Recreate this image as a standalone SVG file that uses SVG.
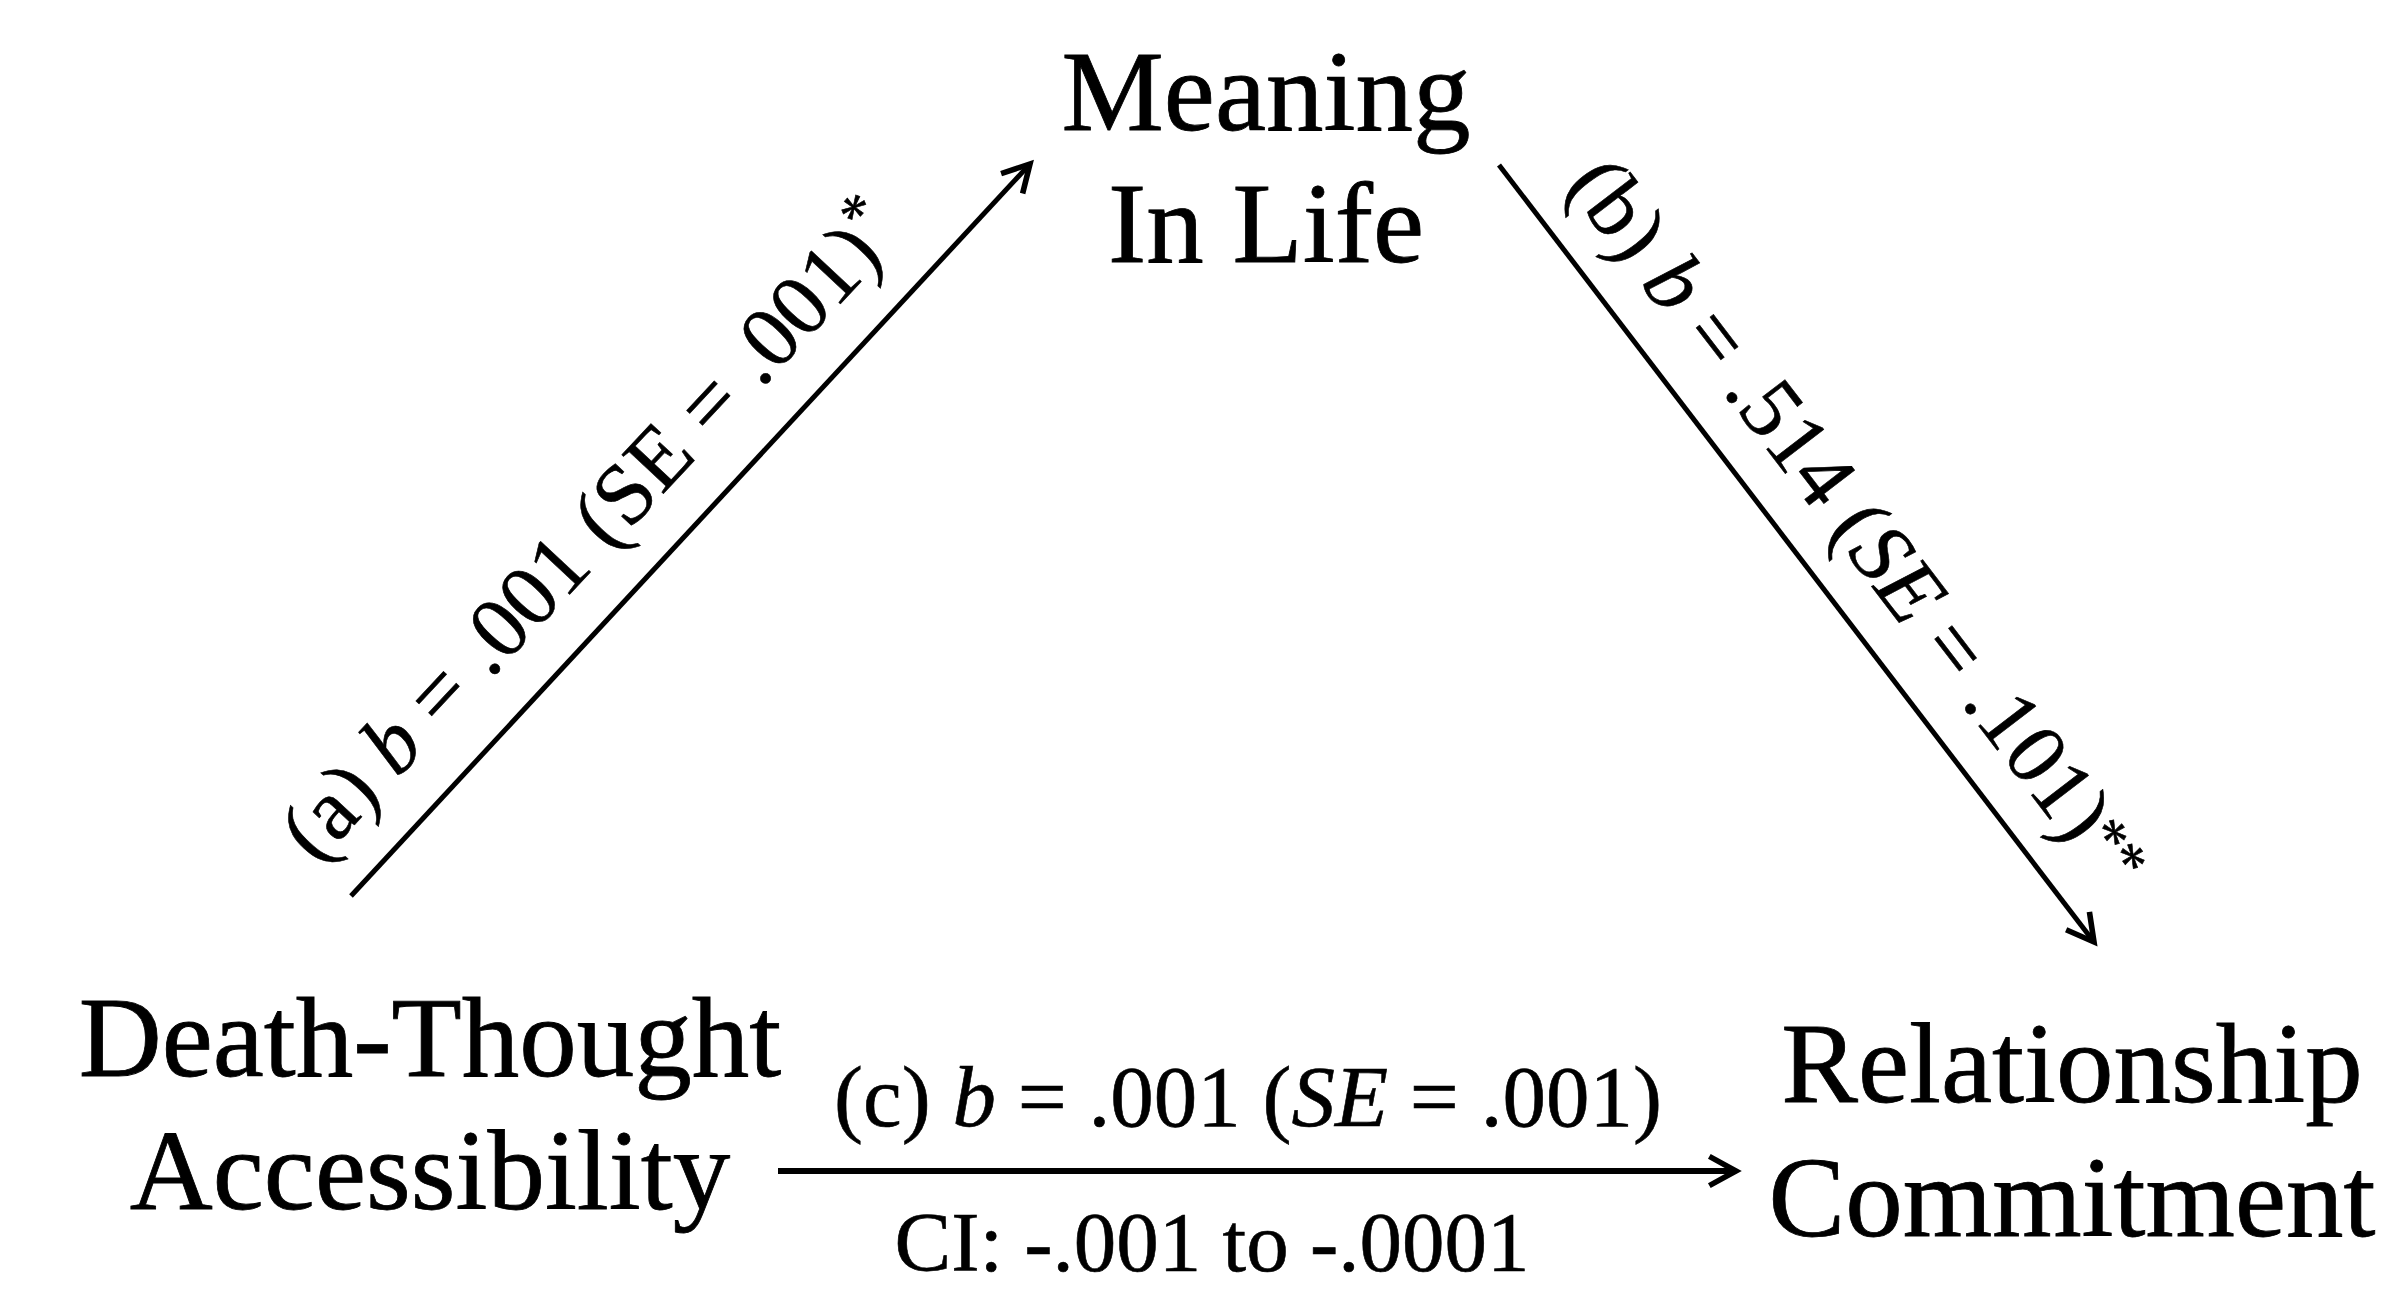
<svg xmlns="http://www.w3.org/2000/svg" width="2393" height="1291" viewBox="0 0 2393 1291">
<style>
.node{font-family:"Liberation Serif","Times New Roman",serif;font-size:115px;fill:#000;stroke:#000;stroke-width:0.8;text-anchor:middle}
.lbl{font-family:"Liberation Serif","Times New Roman",serif;font-size:87px;fill:#000;stroke:#000;stroke-width:0.6;text-anchor:middle}
.edge{stroke:#000;stroke-width:5;fill:none;marker-end:url(#ah)}
</style>
<defs>
<marker id="ah" viewBox="0 0 12 12" refX="11" refY="6" markerWidth="32" markerHeight="32" orient="auto" markerUnits="userSpaceOnUse" overflow="visible">
<path d="M1,0.5 L11,6 L1,11.5" fill="none" stroke="#000" stroke-width="2.1"/>
</marker>
</defs>
<rect width="2393" height="1291" fill="#fff"/>
<g id="connectors">
<line class="edge" x1="351" y1="896" x2="1030" y2="164"/>
<line class="edge" x1="1499" y1="165" x2="2094" y2="942"/>
<line class="edge" x1="778" y1="1171" x2="1736" y2="1171" style="stroke-width:6"/>
<text class="lbl" transform="translate(611,550) rotate(-47)">(a) <tspan font-style="italic">b</tspan> = .001 (SE = .001)<tspan font-size="60" dy="-28">*</tspan></text>
<text class="lbl" transform="translate(1836,540) rotate(52.55)">(b) <tspan font-style="italic">b</tspan> = .514 (<tspan font-style="italic">SE</tspan> = .101)<tspan font-size="60" dy="-15">**</tspan></text>
<text class="lbl" x="1248" y="1126">(c) <tspan font-style="italic">b</tspan> = .001 (<tspan font-style="italic">SE</tspan> = .001)</text>
<text class="lbl" x="1212" y="1271" style="font-size:85px">CI: -.001 to -.0001</text>
</g>
<g id="meaning">
<text class="node" x="1266" y="130">Meaning</text>
<text class="node" x="1266" y="262">In Life</text>
</g>
<g id="dta">
<text class="node" x="430" y="1076">Death-Thought</text>
<text class="node" x="430" y="1209">Accessibility</text>
</g>
<g id="commitment">
<text class="node" x="2072" y="1102">Relationship</text>
<text class="node" x="2072" y="1236">Commitment</text>
</g>
</svg>
